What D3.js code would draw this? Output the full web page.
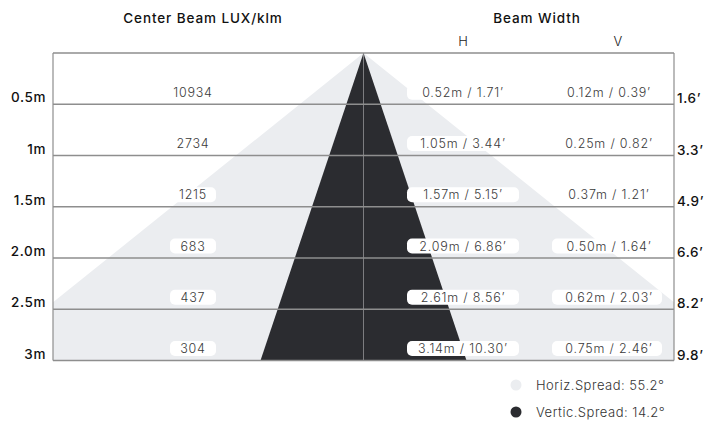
<!DOCTYPE html>
<html>
<head>
<meta charset="utf-8">
<script src="https://cdn.jsdelivr.net/npm/d3@7"></script>
<style>
  html, body { margin: 0; padding: 0; background: #fff; }
  svg { display: block; font-family: Inter, "Open Sans", sans-serif; }
</style>
</head>
<body>
<svg id="chart" width="708" height="421"></svg>
<script>
// ---- data ----
const distances = [0.5, 1, 1.5, 2.0, 2.5, 3];
const distanceLabels = ["0.5m", "1m", "1.5m", "2.0m", "2.5m", "3m"];
const feetLabels = ["1.6'", "3.3'", "4.9'", "6.6'", "8.2'", "9.8'"];
const luxValues = [10934, 2734, 1215, 683, 437, 304];
const hWidthM = [0.52, 1.05, 1.57, 2.09, 2.61, 3.14];
const hWidthFt = [1.71, 3.44, 5.15, 6.86, 8.56, 10.30];
const vWidthM = [0.12, 0.25, 0.37, 0.50, 0.62, 0.75];
const vWidthFt = [0.39, 0.82, 1.21, 1.64, 2.03, 2.46];
const spreadNames = ["Horiz.Spread", "Vertic.Spread"];
const spreadAngles = [55.2, 14.2];
const colors = ["#ebedf0", "#2b2c30"];

// ---- layout ----
const svg = d3.select("#chart");
const L = 53, R = 674, T = 53, B = 360.5, CX = 363.5;

const y = d3.scaleLinear().domain([0, 3]).range([T, B]);
const maxH = hWidthM[hWidthM.length - 1] / 2;
const maxV = vWidthM[vWidthM.length - 1] / 2;
const xH = d3.scaleLinear().domain([-maxH, maxH]).range([CX - 383, CX + 383]);
const xV = d3.scaleLinear().domain([-maxV, maxV]).range([CX - 103, CX + 103]);

svg.append("defs").append("clipPath").attr("id", "plotClip")
  .append("rect").attr("x", L).attr("y", T).attr("width", R - L).attr("height", B - T);

const plot = svg.append("g").attr("clip-path", "url(#plotClip)");
const lastD = distances[distances.length - 1];
const line = d3.line();

// Horizontal spread (light)
plot.append("path")
  .attr("d", line([[xH(0), y(0)], [xH(-maxH), y(lastD)], [xH(maxH), y(lastD)]]) + "Z")
  .attr("fill", colors[0]);
// Vertical spread (dark)
plot.append("path")
  .attr("d", line([[xV(0), y(0)], [xV(-maxV), y(lastD)], [xV(maxV), y(lastD)]]) + "Z")
  .attr("fill", colors[1]);

// center line
svg.append("line").attr("x1", CX).attr("x2", CX).attr("y1", T).attr("y2", B)
  .attr("stroke", "#7d7d80").attr("stroke-width", 1);

// frame & grid lines
const gridColor = "#8e8e8e";
svg.append("line").attr("x1", L).attr("x2", R).attr("y1", y(0)).attr("y2", y(0))
  .attr("stroke", gridColor).attr("stroke-width", 1.5);
svg.append("line").attr("x1", L).attr("x2", L).attr("y1", T).attr("y2", B)
  .attr("stroke", gridColor).attr("stroke-width", 1.2);
svg.append("line").attr("x1", R).attr("x2", R).attr("y1", T).attr("y2", B)
  .attr("stroke", gridColor).attr("stroke-width", 1.2);
svg.selectAll(".grid").data(distances).enter().append("line")
  .attr("x1", L).attr("x2", R)
  .attr("y1", d => y(d)).attr("y2", d => y(d))
  .attr("stroke", gridColor).attr("stroke-width", 1.5);

// value labels with white boxes
const cols = [
  { cx: 193, w: 46, text: i => String(luxValues[i]) },
  { cx: 463, w: 112, text: i => hWidthM[i].toFixed(2) + "m / " + hWidthFt[i].toFixed(2) + "\u2019" },
  { cx: 609, w: 110, text: i => vWidthM[i].toFixed(2) + "m / " + vWidthFt[i].toFixed(2) + "\u2019" }
];
const boxX = [193, 463, 607];
cols.forEach((c, ci) => {
  const g = svg.append("g");
  distances.forEach((d, i) => {
    const cy = y(d) - 12;
    g.append("rect").attr("x", boxX[ci] - c.w / 2).attr("y", cy - 7.5)
      .attr("width", c.w).attr("height", 15).attr("rx", 5)
      .attr("fill", "#fff");
    g.append("text").attr("x", c.cx).attr("y", cy + 4.5)
      .attr("text-anchor", "middle").attr("font-size", 12.5)
      .attr("letter-spacing", 0.8)
      .attr("fill", "#3a3a3a").attr("font-weight", 300)
      .text(c.text(i));
  });
});

// left distance labels
svg.selectAll(".dl").data(distances).enter().append("text")
  .attr("x", 46).attr("y", d => y(d) - 2)
  .attr("text-anchor", "end").attr("font-size", 13.5).attr("font-weight", 500)
  .attr("letter-spacing", 0.6)
  .attr("fill", "#111")
  .text((d, i) => distanceLabels[i]);
// right feet labels
svg.selectAll(".fl").data(distances).enter().append("text")
  .attr("x", 677).attr("y", d => y(d) - 1)
  .attr("text-anchor", "start").attr("font-size", 13.5).attr("font-weight", 500)
  .attr("letter-spacing", 0.6)
  .attr("fill", "#111")
  .text((d, i) => feetLabels[i].replace("'", "\u2019"));

// headers
svg.append("text").attr("x", 203).attr("y", 23).attr("text-anchor", "middle")
  .attr("font-size", 13.5).attr("font-weight", 500).attr("fill", "#111")
  .attr("letter-spacing", 0.9)
  .text("Center Beam LUX/klm");
svg.append("text").attr("x", 537).attr("y", 23).attr("text-anchor", "middle")
  .attr("font-size", 13.5).attr("font-weight", 500).attr("fill", "#111")
  .attr("letter-spacing", 0.9)
  .text("Beam Width");
svg.append("text").attr("x", 463).attr("y", 46).attr("text-anchor", "middle")
  .attr("font-size", 13).attr("font-weight", 300).attr("fill", "#222").text("H");
svg.append("text").attr("x", 618).attr("y", 46).attr("text-anchor", "middle")
  .attr("font-size", 13).attr("font-weight", 300).attr("fill", "#222").text("V");

// legend
const lg = svg.append("g");
spreadNames.forEach((n, i) => {
  const ly = 385 + i * 27;
  lg.append("circle").attr("cx", 516).attr("cy", ly).attr("r", 5.5).attr("fill", colors[i]);
  lg.append("text").attr("x", 536).attr("y", ly + 4.5)
    .attr("font-size", 13).attr("font-weight", 300).attr("fill", "#333")
    .attr("letter-spacing", 0.5)
    .text(n + ": " + spreadAngles[i] + "\u00b0");
});
</script>
</body>
</html>
